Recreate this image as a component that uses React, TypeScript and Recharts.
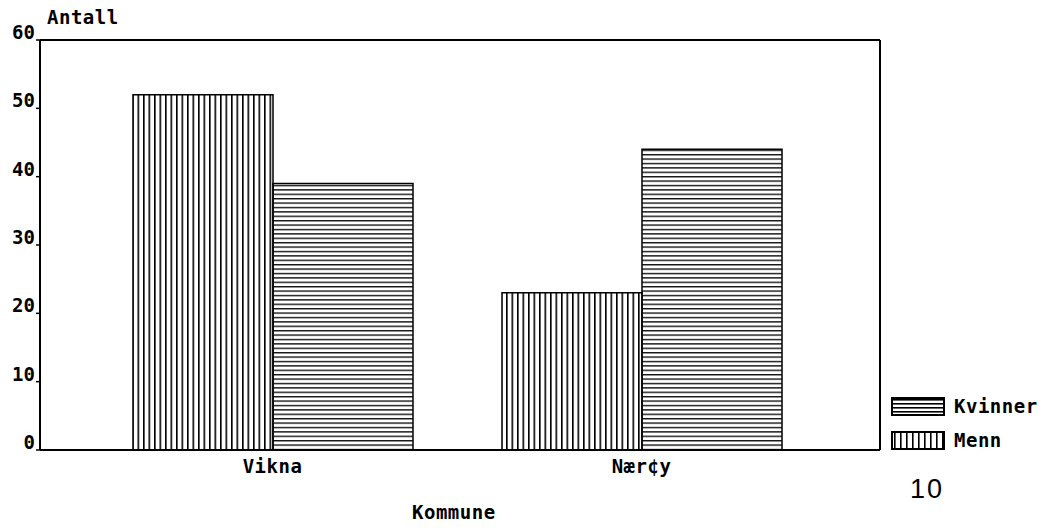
import { BarChart, Bar, XAxis, YAxis, ReferenceLine } from "recharts";

const categories = ["Vikna", "Nær¢y"];
const menn = [52, 23];
const kvinner = [39, 44];
const yTicks = [0, 10, 20, 30, 40, 50, 60];
const legendItems = [
    { name: "Kvinner", horizontal: true },
    { name: "Menn", horizontal: false },
];

const data = categories.map((kommune, i) => ({
    kommune,
    Menn: menn[i],
    Kvinner: kvinner[i],
}));

const FONT = "'DejaVu Sans Mono', monospace";
const FS = 19;

const YTick = (props: any) => {
    const { x, y, payload } = props;
    return (
        <text
            x={x}
            y={y}
            dy={-1}
            textAnchor="end"
            fontFamily={FONT}
            fontWeight="bold"
            fontSize={FS}
            fill="#000"
        >
            {payload.value}
        </text>
    );
};

const Swatch = ({ horizontal }: { horizontal: boolean }) => (
    <svg width={54} height={19} style={{ display: "block" }}>
        {horizontal
            ? [2, 6, 10, 14].map((y) => (
                  <rect key={y} x={0} y={y} width={54} height={1.6} fill="#000" />
              ))
            : [3, 9, 15, 21, 27, 33, 39, 45, 51].map((x) => (
                  <rect key={x} x={x} y={0} width={1.6} height={19} fill="#000" />
              ))}
        <rect x={1} y={1} width={52} height={17} fill="none" stroke="#000" strokeWidth={2} />
    </svg>
);

const textStyle = {
    position: "absolute" as const,
    fontFamily: FONT,
    fontWeight: "bold" as const,
    fontSize: FS,
    letterSpacing: 0.5,
};

export default function App() {
    return (
        <div
            style={{
                position: "absolute",
                left: 0,
                top: 0,
                width: 1053,
                height: 528,
                background: "#fff",
            }}
        >
            <BarChart
                width={1053}
                height={528}
                data={data}
                margin={{ top: 40, right: 172, bottom: 48, left: 0 }}
                barCategoryGap={45}
                barGap={0}
            >
                <defs>
                    <pattern id="vstripe" width={5.5} height={10} patternUnits="userSpaceOnUse">
                        <rect x={0} y={0} width={1.6} height={10} fill="#000" />
                    </pattern>
                    <pattern id="hstripe" width={10} height={4.4} patternUnits="userSpaceOnUse">
                        <rect x={0} y={0} width={10} height={1.4} fill="#111" />
                    </pattern>
                </defs>
                <XAxis
                    dataKey="kommune"
                    padding={{ left: 48, right: 54 }}
                    tickLine={false}
                    tickMargin={4}
                    height={30}
                    axisLine={{ stroke: "#000", strokeWidth: 2 }}
                    tick={{ fontFamily: FONT, fontWeight: "bold", fontSize: FS, fill: "#000", letterSpacing: 0.5 }}
                />
                <YAxis
                    domain={[0, 60]}
                    ticks={yTicks}
                    width={40}
                    tickSize={4}
                    tickMargin={1}
                    axisLine={{ stroke: "#000", strokeWidth: 2 }}
                    tickLine={{ stroke: "#000", strokeWidth: 1.5 }}
                    tick={<YTick />}
                    interval={0}
                />
                <YAxis
                    yAxisId="right"
                    orientation="right"
                    domain={[0, 60]}
                    width={1}
                    tick={false}
                    tickLine={false}
                    axisLine={{ stroke: "#000", strokeWidth: 2 }}
                />
                <ReferenceLine y={60} stroke="#000" strokeWidth={2} />
                <Bar
                    dataKey="Menn"
                    fill="url(#vstripe)"
                    stroke="#000"
                    strokeWidth={1.5}
                    isAnimationActive={false}
                />
                <Bar
                    dataKey="Kvinner"
                    fill="url(#hstripe)"
                    stroke="#000"
                    strokeWidth={1.5}
                    isAnimationActive={false}
                />
            </BarChart>
            <div style={{ position: "absolute", left: 891, top: 389, color: "#000" }}>
                {legendItems.map((item) => (
                    <div
                        key={item.name}
                        style={{
                            display: "flex",
                            alignItems: "center",
                            height: 34,
                            fontFamily: FONT,
                            fontWeight: "bold",
                            fontSize: FS,
                            letterSpacing: 0.5,
                        }}
                    >
                        <Swatch horizontal={item.horizontal} />
                        <span style={{ marginLeft: 9 }}>{item.name}</span>
                    </div>
                ))}
            </div>
            <div style={{ ...textStyle, left: 47, top: 6 }}>Antall</div>
            <div style={{ ...textStyle, left: 412, top: 501 }}>Kommune</div>
            <div
                style={{
                    position: "absolute",
                    left: 910,
                    top: 474,
                    fontFamily: "'Liberation Sans', Arial, sans-serif",
                    fontSize: 27,
                    letterSpacing: 2,
                }}
            >
                10
            </div>
        </div>
    );
}
